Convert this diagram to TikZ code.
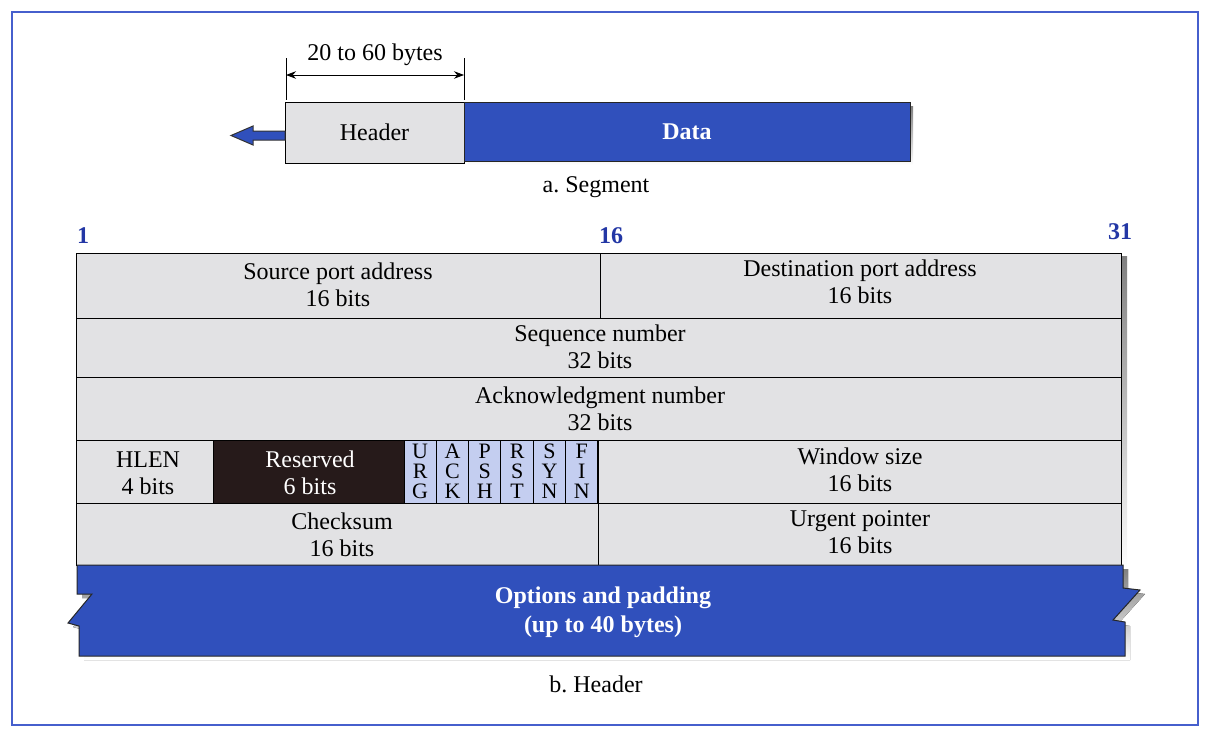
\documentclass[tikz,border=0pt]{standalone}
\usepackage{fontspec}
\setmainfont{Liberation Serif}
\usetikzlibrary{arrows.meta}
\definecolor{bandblue}{RGB}{48,80,188}
\definecolor{framblue}{RGB}{70,95,205}
\definecolor{numblue}{RGB}{35,55,165}
\definecolor{cellgray}{RGB}{226,226,228}
\definecolor{flagblue}{RGB}{196,206,240}
\definecolor{resblack}{RGB}{38,26,26}
\definecolor{shade}{RGB}{85,85,80}
\frenchspacing

\begin{document}
\begin{tikzpicture}[x=0.5pt,y=-0.5pt,
  every node/.style={font=\fontsize{12}{13.5}\selectfont, align=center},
  field/.style={draw=black, line width=0.5pt},
  bitnum/.style={font=\fontsize{12}{13.5}\selectfont\bfseries, text=numblue},
  flag/.style={font=\fontsize{11}{10}\selectfont, inner sep=0pt},
  white text/.style={text=white, font=\fontsize{12}{14.5}\selectfont\bfseries}]
  \useasboundingbox (0,0) rectangle (1224,744);
  \draw[framblue, line width=0.9pt] (12,12) rectangle (1198,725);

  % a. Segment
  \coordinate (dimL) at (286,75);
  \coordinate (dimR) at (464,75);
  \draw (286,58) -- (286,100);
  \draw (464,58) -- (464,100);
  \draw[{Stealth[length=5pt]}-{Stealth[length=5pt]}] (dimL) -- (dimR)
    node[midway, above=1pt] (dimlbl) {20 to 60 bytes};
  \fill[shade] (468,106) rectangle (913,165);
  \filldraw[field, fill=cellgray] (285,102) rectangle (464,163);
  \node (hdr) at (374.5,132.5) {Header};
  \filldraw[field, fill=bandblue, draw=black!85] (464,102) rectangle (910,161);
  \node[white text] (data) at (687,131.5) {Data};
  \filldraw[fill=bandblue, draw=black!80, line width=0.5pt]
    (285,131) -- (253,131) -- (253,126) -- (231,135.5) -- (253,145) -- (253,140) -- (285,140) -- cycle;
  \node (capa) at (596,187) {a. Segment};

  % b. Header
  \node[bitnum] (b1) at (83,236) {1};
  \node[bitnum] (b16) at (611,236) {16};
  \node[bitnum] (b31) at (1120,232) {31};

  \fill[shade] (1121,256) rectangle (1127,570);
  \filldraw[field, fill=cellgray] (76,253) rectangle (1121,565);
  \draw[field] (76,318) -- (1121,318);
  \draw[field] (76,377) -- (1121,377);
  \draw[field] (76,440) -- (1121,440);
  \draw[field] (76,503) -- (1121,503);
  \draw[field] (600,253) -- (600,318);
  \draw[field] (598,440) -- (598,565);

  \node (src) at (338,284.5) {Source port address\\16 bits};
  \node (dst) at (860,282) {Destination port address\\16 bits};
  \node (seq) at (600,346.5) {Sequence number\\32 bits};
  \node (ack) at (600,409) {Acknowledgment number\\32 bits};
  \node (hlen) at (148,473.5) {HLEN\\4 bits};
  \filldraw[field, fill=resblack] (213,440) rectangle (404,503);
  \node[text=white] (resv) at (310,472.5) {Reserved\\6 bits};
  \foreach \i/\t in {0/{U\\R\\G},1/{A\\C\\K},2/{P\\S\\H},3/{R\\S\\T},4/{S\\Y\\N},5/{F\\I\\N}} {
    \filldraw[field, fill=flagblue] ({404+\i*32.33},440) rectangle ({404+(\i+1)*32.33},503);
    \node[flag] (flag\i) at ({404+(\i+0.5)*32.33},471) {\t};
  }
  \node (win) at (860,470) {Window size\\16 bits};
  \node (chk) at (342,535) {Checksum\\16 bits};
  \node (urg) at (860,532.5) {Urgent pointer\\16 bits};

  % options band with torn edges
  \fill[shade, shift={(5,4)}] (77,565) -- (1123,565) -- (1123,588) -- (1140,590) -- (1113,620)
    -- (1125,622) -- (1125,656) -- (79,656) -- (79,626) -- (68,623) -- (92,594) -- (77,594) -- cycle;
  \filldraw[fill=bandblue, draw=black!85, line width=0.5pt] (77,565) -- (1123,565) -- (1123,588)
    -- (1140,590) -- (1113,620) -- (1125,622) -- (1125,656) -- (79,656) -- (79,626) -- (68,623)
    -- (92,594) -- (77,594) -- cycle;
  \node[white text] (opts) at (603,612) {Options and padding\\(up to 40 bytes)};
  \node (capb) at (596,684) {b. Header};
\end{tikzpicture}
\end{document}
